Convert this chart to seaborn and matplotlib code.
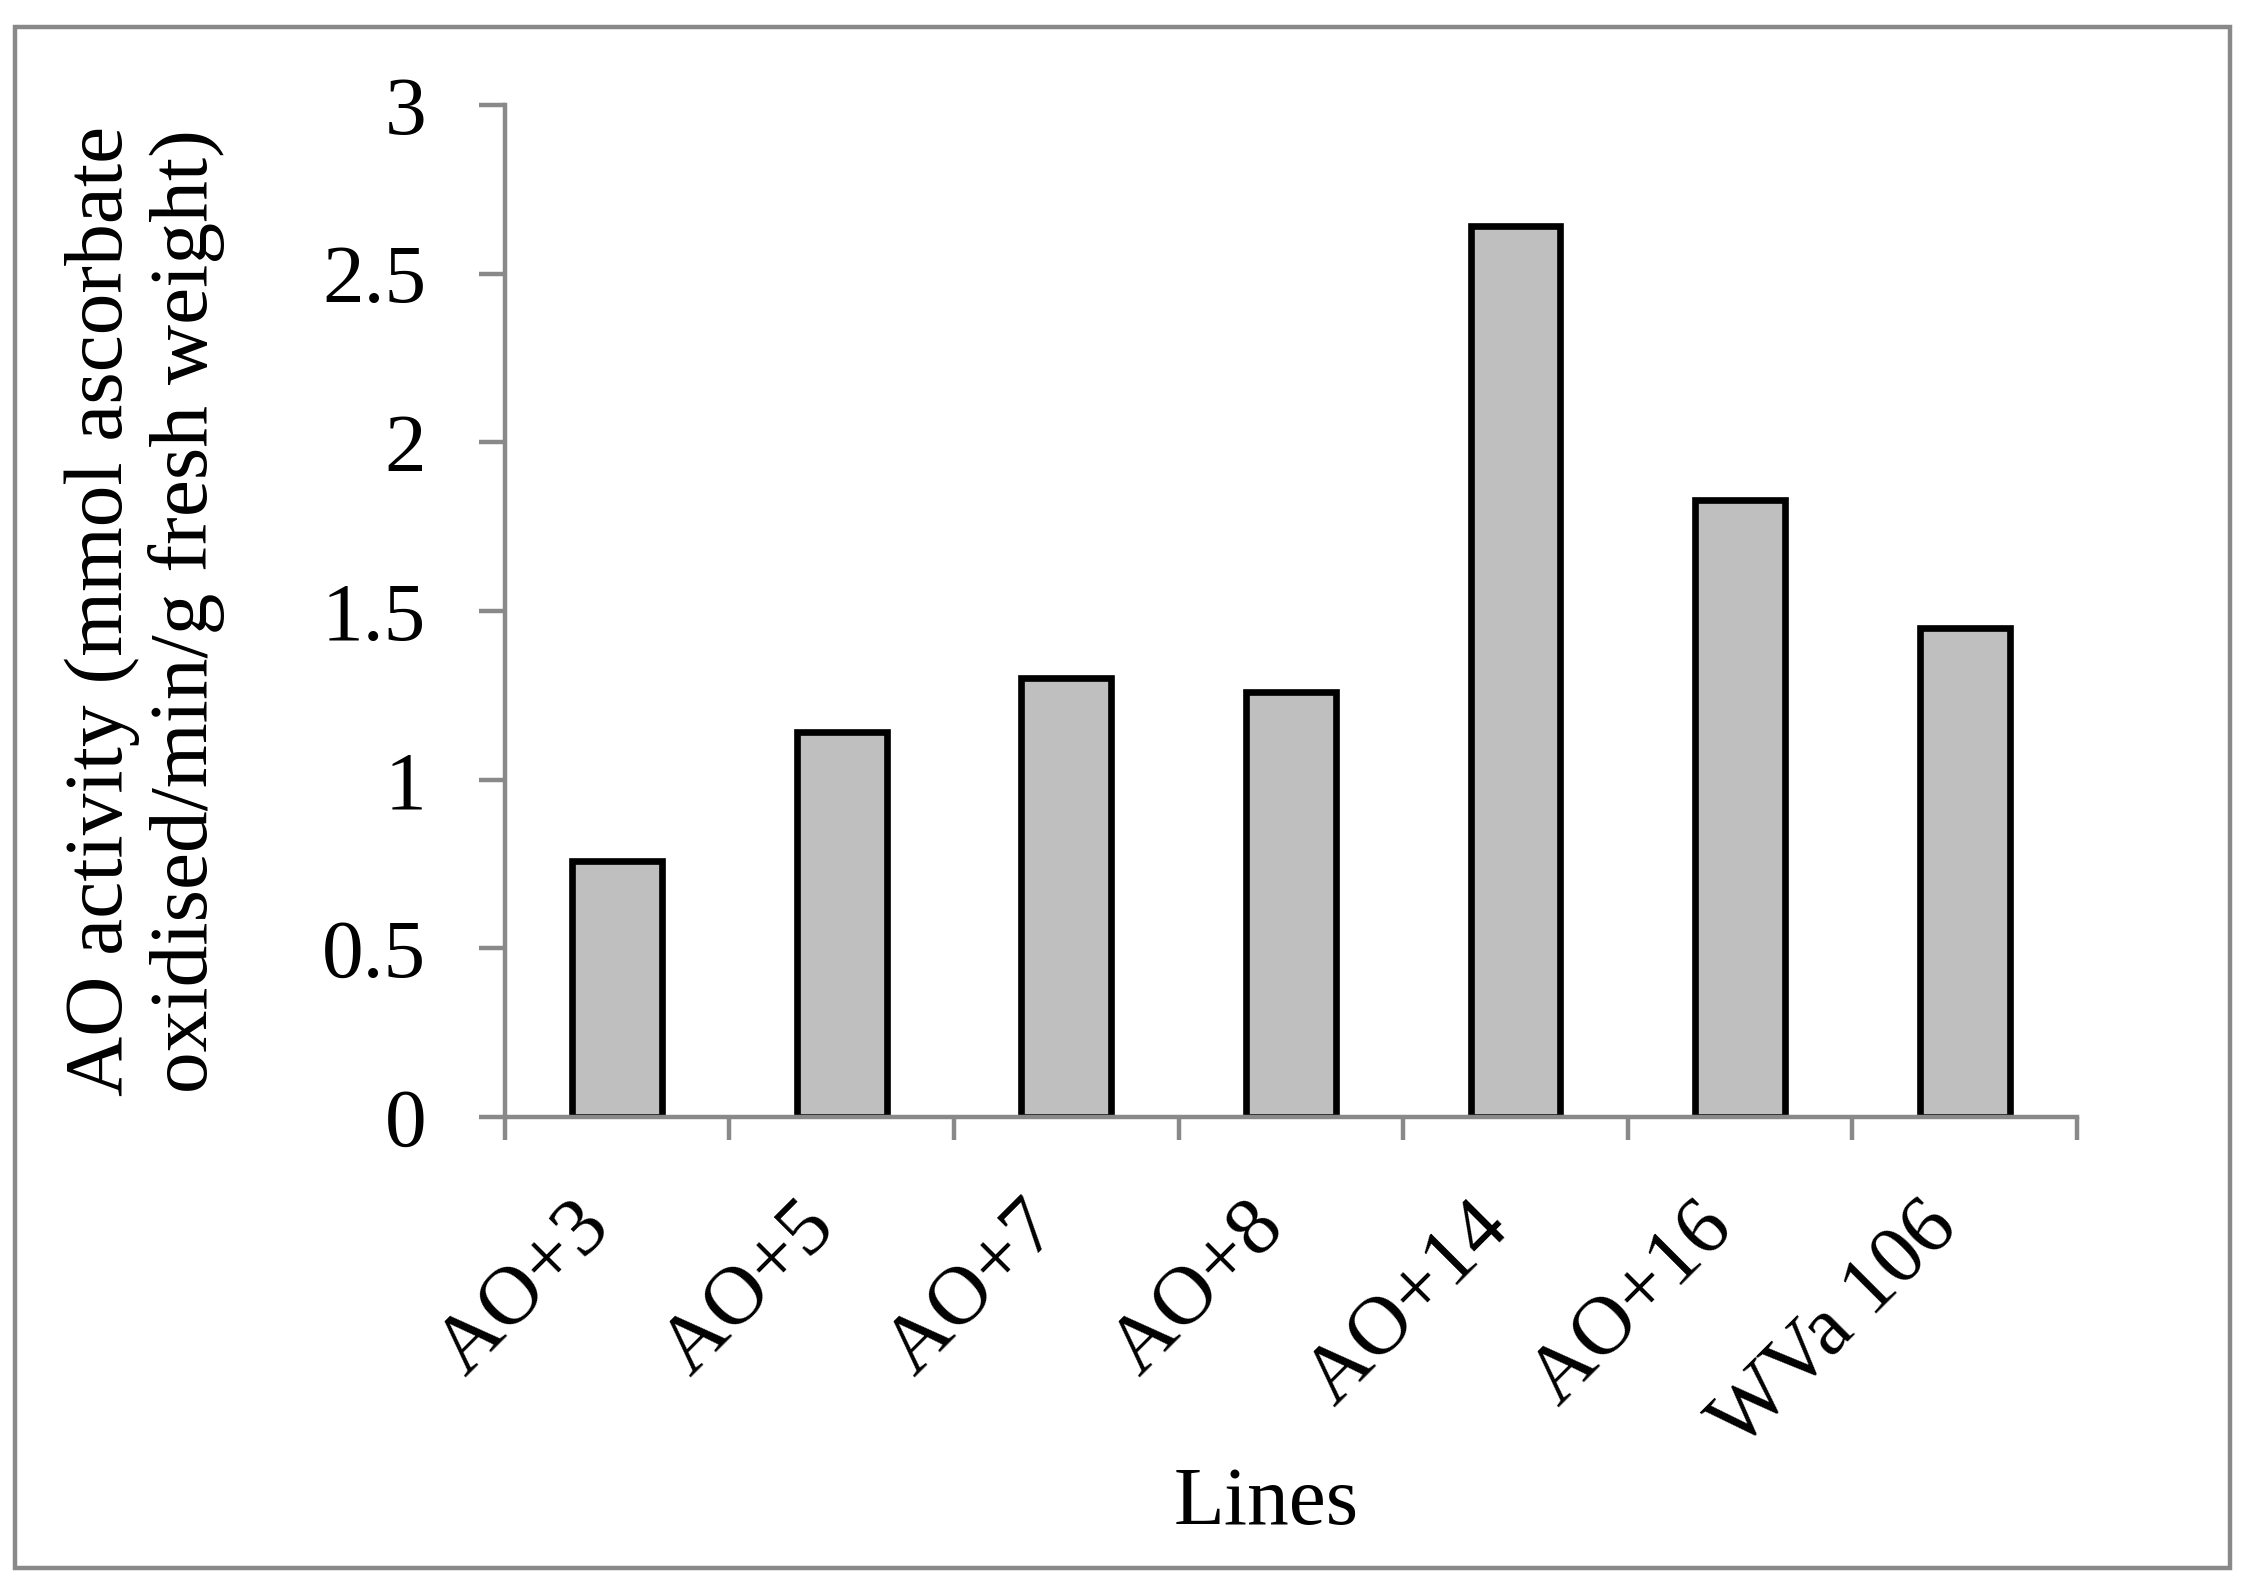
import matplotlib
matplotlib.use("Agg")
import matplotlib.pyplot as plt
import matplotlib.transforms as mtransforms
from matplotlib.patches import Rectangle
import seaborn as sns
import numpy as np
import pandas as pd

# values
lines = ["AO+3", "AO+5", "AO+7", "AO+8", "AO+14", "AO+16", "WVa 106"]
activity = [0.76, 1.14, 1.30, 1.26, 2.64, 1.83, 1.45]
y_ticks = [0, 0.5, 1, 1.5, 2, 2.5, 3]

df = pd.DataFrame({"Lines": lines, "Activity": activity})

sns.set_style("white")
plt.rcParams["font.family"] = ["Liberation Serif", "DejaVu Serif"]
plt.rcParams["text.color"] = "black"
plt.rcParams["axes.labelcolor"] = "black"

axis_grey = "#898989"

fig = plt.figure(figsize=(22.51, 15.86), dpi=100)
ax = fig.add_axes([0.2243, 0.2957, 0.6984, 0.6381])

sns.barplot(data=df, x="Lines", y="Activity", color="#BFBFBF", saturation=1,
            edgecolor="black", linewidth=4.8, width=0.4, ax=ax)

ax.set_xlim(-0.5, len(lines) - 0.5)
ax.set_ylim(0, 3)

# spines
for side in ["top", "right"]:
    ax.spines[side].set_visible(False)
for side in ["left", "bottom"]:
    ax.spines[side].set_color(axis_grey)
    ax.spines[side].set_linewidth(3.2)

# y ticks
ax.set_yticks(y_ticks)
ax.set_yticklabels([f"{v:g}" for v in y_ticks])
ax.tick_params(axis="y", which="major", direction="out", length=18.7, width=3.2,
               color=axis_grey, pad=38, labelsize=60, labelcolor="black", left=True)

# x ticks: marks between categories, labels at centres
ax.set_xticks(np.arange(-0.5, len(lines), 1.0), minor=True)
ax.tick_params(axis="x", which="minor", direction="out", length=16.5, width=3.2,
               color=axis_grey, bottom=True)
ax.tick_params(axis="x", which="major", length=0, pad=71, labelsize=60,
               labelcolor="black")
offset = mtransforms.ScaledTranslation(-0.19, 0, fig.dpi_scale_trans)
for lab in ax.get_xticklabels():
    lab.set_rotation(45)
    lab.set_ha("right")
    lab.set_va("center")
    lab.set_rotation_mode("anchor")
    lab.set_transform(lab.get_transform() + offset)

ax.set_xlabel("Lines", fontsize=60, color="black")
ax.xaxis.set_label_coords(0.484, -0.345)
ax.set_ylabel("AO activity (mmol ascorbate\noxidised/min/g fresh weight)",
              fontsize=60, linespacing=1.13, color="black")
ax.yaxis.set_label_coords(-0.178, 0.5)

# outer chart frame
fig.patches.append(Rectangle((15 / 2251, 1 - 1568 / 1586), (2230 - 15) / 2251,
                             (1568 - 27) / 1586, transform=fig.transFigure,
                             fill=False, edgecolor=axis_grey, linewidth=3.2))

fig.savefig("out.png", dpi=100)
